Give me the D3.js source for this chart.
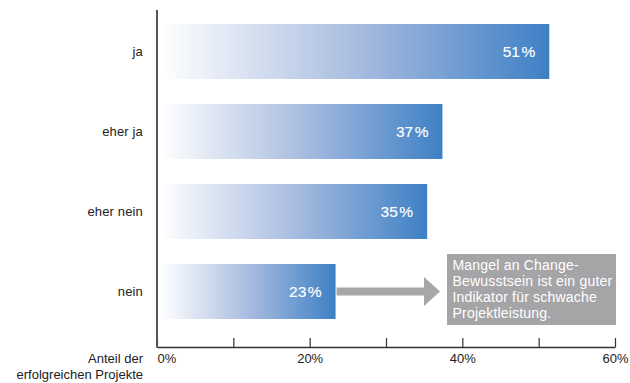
<!DOCTYPE html>
<html>
<head>
<meta charset="utf-8">
<script src="https://cdn.jsdelivr.net/npm/d3@7/dist/d3.min.js"></script>
<style>
  html, body { margin: 0; padding: 0; background: #fff; }
  svg { display: block; font-family: "Liberation Sans", Arial, Helvetica, sans-serif; }
</style>
</head>
<body>
<div id="chart"></div>
<script>
// Antworten und Anteil erfolgreicher Projekte je Antwort
const categories = ["ja", "eher ja", "eher nein", "nein"];
const shares = [51, 37, 35, 23];
const tickValues = [0, 10, 20, 30, 40, 50, 60];
const labeledTicks = [0, 20, 40, 60];
const axisTitle = ["Anteil der", "erfolgreichen Projekte"];
const noteLines = ["Mangel an Change-", "Bewusstsein ist ein guter", "Indikator für schwache", "Projektleistung."];

const W = 630, H = 383;
const svg = d3.select("#chart").append("svg").attr("width", W).attr("height", H);

const x = d3.scaleLinear().domain([0, 60]).range([157, 615]);
const y = d3.scaleBand().domain(categories).range([11.5, 331.5])
  .paddingInner(0.3125).paddingOuter(0.15625);
const axisY = 347;
const barGap = 3;

// Verlauf von Weiß nach Blau, pro Balken
const defs = svg.append("defs");
const grad = defs.append("linearGradient").attr("id", "barGrad")
  .attr("x1", "0%").attr("x2", "100%").attr("y1", "0%").attr("y2", "0%");
grad.append("stop").attr("offset", "0%").attr("stop-color", "#ffffff");
grad.append("stop").attr("offset", "50%").attr("stop-color", "#a9bde0");
grad.append("stop").attr("offset", "100%").attr("stop-color", "#3e80c5");

const data = categories.map((c, i) => ({ cat: c, v: shares[i] }));

// Balken
svg.append("g").selectAll("rect").data(data).join("rect")
  .attr("x", x(0) + barGap)
  .attr("y", d => y(d.cat))
  .attr("width", d => x(d.v) - x(0))
  .attr("height", y.bandwidth())
  .attr("fill", "url(#barGrad)");

// Werte in den Balken (Zahl, schmaler Abstand, Prozentzeichen)
const valueLabels = svg.append("g").selectAll("text").data(data).join("text")
  .attr("x", d => x(d.v) + barGap - 14)
  .attr("y", d => y(d.cat) + y.bandwidth() / 2)
  .attr("dy", "0.36em")
  .attr("text-anchor", "end")
  .attr("fill", "#fff")
  .attr("font-size", 15.5)
  .attr("stroke", "#fff")
  .attr("stroke-width", 0.15);
valueLabels.append("tspan").text(d => d.v);
valueLabels.append("tspan").attr("dx", 1.5).text("%");

// Kategorien links
svg.append("g").selectAll("text").data(categories).join("text")
  .attr("x", 143)
  .attr("y", d => y(d) + y.bandwidth() / 2)
  .attr("dy", "0.36em")
  .attr("text-anchor", "end")
  .attr("fill", "#222")
  .attr("font-size", 13)
  .attr("letter-spacing", 0.15)
  .text(d => d);

// X-Achse mit nach oben zeigenden Strichen
const xAxis = d3.axisBottom(x)
  .tickValues(tickValues)
  .tickSizeInner(-9)
  .tickSizeOuter(0)
  .tickPadding(7)
  .tickFormat(d => labeledTicks.includes(d) ? d + "%" : "");
const gx = svg.append("g").attr("transform", `translate(0,${axisY})`).call(xAxis);
gx.select(".domain").attr("stroke", "#333").attr("stroke-width", 1.5);
gx.selectAll(".tick line").attr("stroke", "#333").attr("stroke-width", 1.2);
gx.selectAll(".tick text")
  .attr("fill", "#222")
  .attr("font-size", 13)
  .attr("font-family", "Liberation Sans, Arial, sans-serif");
gx.selectAll(".tick").filter(d => d === 0).select("text").attr("text-anchor", "start");

// Y-Achsenlinie
svg.append("line")
  .attr("x1", x(0)).attr("x2", x(0))
  .attr("y1", 10).attr("y2", axisY + 0.75)
  .attr("stroke", "#555").attr("stroke-width", 2);

// Achsentitel
svg.append("text")
  .attr("x", 143).attr("y", 363)
  .attr("text-anchor", "end")
  .attr("fill", "#222").attr("font-size", 13)
  .selectAll("tspan").data(axisTitle).join("tspan")
  .attr("x", 143)
  .attr("dy", (d, i) => i === 0 ? 0 : 15.5)
  .text(d => d);

// Hinweisbox
const box = { x: 447, y: 254, w: 169, h: 71 };
svg.append("rect")
  .attr("x", box.x).attr("y", box.y)
  .attr("width", box.w).attr("height", box.h)
  .attr("fill", "#a5a5a7");
svg.append("text")
  .attr("fill", "#fff").attr("font-size", 14)
  .attr("letter-spacing", 0.2)
  .selectAll("tspan").data(noteLines).join("tspan")
  .attr("x", box.x + 5.5)
  .attr("y", (d, i) => box.y + 16 + i * 16)
  .text(d => d);

// Pfeil vom letzten Balken zur Box
const last = data[data.length - 1];
const ay = y(last.cat) + y.bandwidth() / 2;
const ax0 = x(last.v) + barGap + 1;
const tip = box.x - 7;
const headLen = 16, headHalf = 14.5, shaftHalf = 4;
const arrowPath = d3.path();
arrowPath.moveTo(ax0, ay - shaftHalf);
arrowPath.lineTo(tip - headLen, ay - shaftHalf);
arrowPath.lineTo(tip - headLen, ay - headHalf);
arrowPath.lineTo(tip, ay);
arrowPath.lineTo(tip - headLen, ay + headHalf);
arrowPath.lineTo(tip - headLen, ay + shaftHalf);
arrowPath.lineTo(ax0, ay + shaftHalf);
arrowPath.closePath();
svg.append("path").attr("d", arrowPath.toString()).attr("fill", "#a7a7a9");
</script>
</body>
</html>
